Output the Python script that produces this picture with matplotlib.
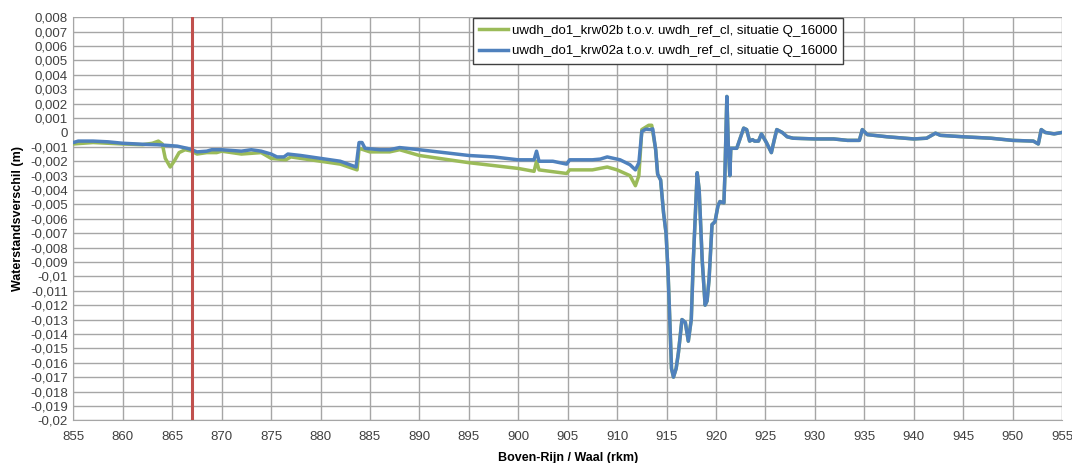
import matplotlib
matplotlib.use("Agg")
import matplotlib.pyplot as plt
from matplotlib.ticker import MultipleLocator, FuncFormatter

plt.rcParams['font.family'] = ['Liberation Sans', 'DejaVu Sans']

# ---- data ----
# blue: uwdh_do1_krw02a
blue_km = [855.0, 855.5, 857.0, 858.5, 860.0, 862.0, 863.5, 864.5, 865.5, 866.5,
           867.0, 867.5, 868.5, 869.0, 870.0, 871.0, 872.0, 873.0, 874.0, 875.0,
           875.6, 876.3, 876.7, 878.0, 880.0, 882.0, 883.6, 883.9, 884.2, 884.5,
           886.0, 887.0, 888.0, 890.0, 892.5, 895.0, 897.5, 900.0, 901.6, 901.85,
           902.1, 903.5, 904.9, 905.2, 907.5, 908.3, 909.0, 910.3, 911.3, 911.85,
           912.2, 912.5, 912.9, 913.4, 913.6, 913.9,
           914.1, 914.4, 914.7, 914.95, 915.15, 915.3, 915.5, 915.7, 915.97, 916.2,
           916.56, 916.9, 917.2, 917.5, 917.7, 918.1, 918.3, 918.6, 918.9, 919.1,
           919.3, 919.6, 919.9, 920.2, 920.4, 920.8, 920.9, 921.1, 921.25, 921.4,
           921.5, 922.1, 922.8, 923.1, 923.4, 923.7, 923.9, 924.3, 924.6, 925.1,
           925.6, 925.9, 926.15, 926.7, 927.2, 927.8, 930.0, 931.9, 933.3, 934.5,
           934.8, 935.3, 937.3, 940.0, 941.3, 942.2, 942.7, 945.0, 947.8, 950.0,
           952.1, 952.6, 952.9, 953.3, 954.2, 955.0]
blue_val = [-0.0007, -0.0006, -0.0006, -0.00065, -0.00075, -0.00082, -0.00085, -0.0009, -0.00095, -0.0011,
            -0.0012, -0.00135, -0.0013, -0.0012, -0.0012, -0.00125, -0.0013, -0.0012, -0.0013, -0.0015,
            -0.0017, -0.0017, -0.0015, -0.0016, -0.0018, -0.002, -0.0024, -0.0007, -0.0007, -0.0011,
            -0.0012, -0.0012, -0.00105, -0.0012, -0.0014, -0.0016, -0.0017, -0.0019, -0.0019, -0.0013,
            -0.002, -0.002, -0.0022, -0.0019, -0.0019, -0.00185, -0.0017, -0.0019, -0.00224, -0.0026,
            -0.0021, 0.00007, 0.00023, 0.0002, 0.00025, -0.0012,
            -0.0029, -0.0033, -0.0056, -0.007, -0.0097, -0.0125, -0.0164, -0.017, -0.0164, -0.0153,
            -0.013, -0.0132, -0.0145, -0.013, -0.009, -0.0028, -0.004, -0.0088, -0.012, -0.0117,
            -0.0102, -0.0064, -0.0062, -0.0051, -0.0048, -0.0049, -0.003, 0.0025, -0.001, -0.003,
            -0.0011, -0.0011, 0.0003, 0.0002, -0.0006, -0.0005, -0.0006, -0.0006, -0.0001, -0.0007,
            -0.0014, -0.0005, 0.0002, 0.0, -0.0003, -0.0004, -0.00045, -0.00045, -0.00055, -0.00055,
            0.0002, -0.00015, -0.0003, -0.00045, -0.0004, -0.00005, -0.0002, -0.0003, -0.0004, -0.00055,
            -0.0006, -0.0008, 0.0002, 0.0, -0.0001, 0.0]

# green: uwdh_do1_krw02b (runs on the blue line after km 914)
green_head_km = [855.0, 857.0, 860.0, 862.0, 863.0, 863.6, 864.0, 864.3, 864.8, 865.2,
                 865.7, 866.3, 867.0, 867.5, 868.5, 869.5, 870.0, 871.0, 872.0, 873.0,
                 874.0, 875.0, 876.5, 877.0, 880.0, 882.0, 883.7, 883.9, 885.0, 887.0,
                 888.0, 890.0, 895.0, 900.0, 901.6, 901.85, 902.1, 904.9, 905.2, 907.5,
                 909.0, 910.0, 911.3, 911.85, 912.2, 912.5, 913.2, 913.5, 913.9]
green_head_val = [-0.0008, -0.0007, -0.0008, -0.00085, -0.00075, -0.0006, -0.0008, -0.0018, -0.0024, -0.002,
                  -0.0014, -0.0012, -0.0013, -0.0015, -0.0014, -0.0014, -0.0013, -0.0014, -0.0015, -0.00145,
                  -0.0014, -0.0018, -0.0019, -0.0017, -0.002, -0.0022, -0.0026, -0.0011, -0.00135, -0.00135,
                  -0.0012, -0.0016, -0.0021, -0.0025, -0.0027, -0.002, -0.0026, -0.00285, -0.0026, -0.0026,
                  -0.0024, -0.0026, -0.003, -0.0037, -0.003, 0.0002, 0.0005, 0.0005, -0.0012]
tail = blue_km.index(914.1)
green_km = green_head_km + blue_km[tail:]
green_val = green_head_val + blue_val[tail:]

marker_km = 867.0
label_green = 'uwdh_do1_krw02b t.o.v. uwdh_ref_cl, situatie Q_16000'
label_blue = 'uwdh_do1_krw02a t.o.v. uwdh_ref_cl, situatie Q_16000'


def nl_fmt(v, pos):
    s = f"{v:.3f}".rstrip('0').rstrip('.')
    if s in ('-0', '0', ''):
        return '0'
    return s.replace('.', ',')


fig = plt.figure(figsize=(10.72, 4.63), dpi=100)
ax = fig.add_axes([0.0684, 0.0922, 0.9223, 0.8704])

ax.plot(green_km, green_val, color='#9BBB59', linewidth=2.5, label=label_green, zorder=3)
ax.plot(blue_km, blue_val, color='#4F81BD', linewidth=2.5, label=label_blue, zorder=4)
ax.axvline(marker_km, color='#C0504D', linewidth=2.2, zorder=5)

ax.set_xlim(855, 955)
ax.set_ylim(-0.02, 0.008)
ax.xaxis.set_major_locator(MultipleLocator(5))
ax.yaxis.set_major_locator(MultipleLocator(0.001))
ax.yaxis.set_major_formatter(FuncFormatter(nl_fmt))
ax.grid(True, color='#A6A6A6', linewidth=1.0)
ax.set_axisbelow(True)
for side in ('top', 'right'):
    ax.spines[side].set_visible(False)
for side in ('left', 'bottom'):
    ax.spines[side].set_color('#A6A6A6')
ax.tick_params(axis='both', length=0, labelsize=9.5, colors='#404040', pad=4)
ax.tick_params(axis='x', pad=8)

ax.set_xlabel('Boven-Rijn / Waal (rkm)', fontsize=9, fontweight='bold', labelpad=6)
ax.set_ylabel('Waterstandsverschil (m)', fontsize=9, fontweight='bold', labelpad=4)

leg = ax.legend(loc='upper left', bbox_to_anchor=(0.4347, 0.975),
                bbox_transform=fig.transFigure, fontsize=9.5, handlelength=2.2,
                handletextpad=0.25, borderpad=0.5, labelspacing=0.6,
                fancybox=False, framealpha=1.0, edgecolor='#404040')
leg.get_frame().set_linewidth(1.0)

fig.savefig('out.png', dpi=100)
